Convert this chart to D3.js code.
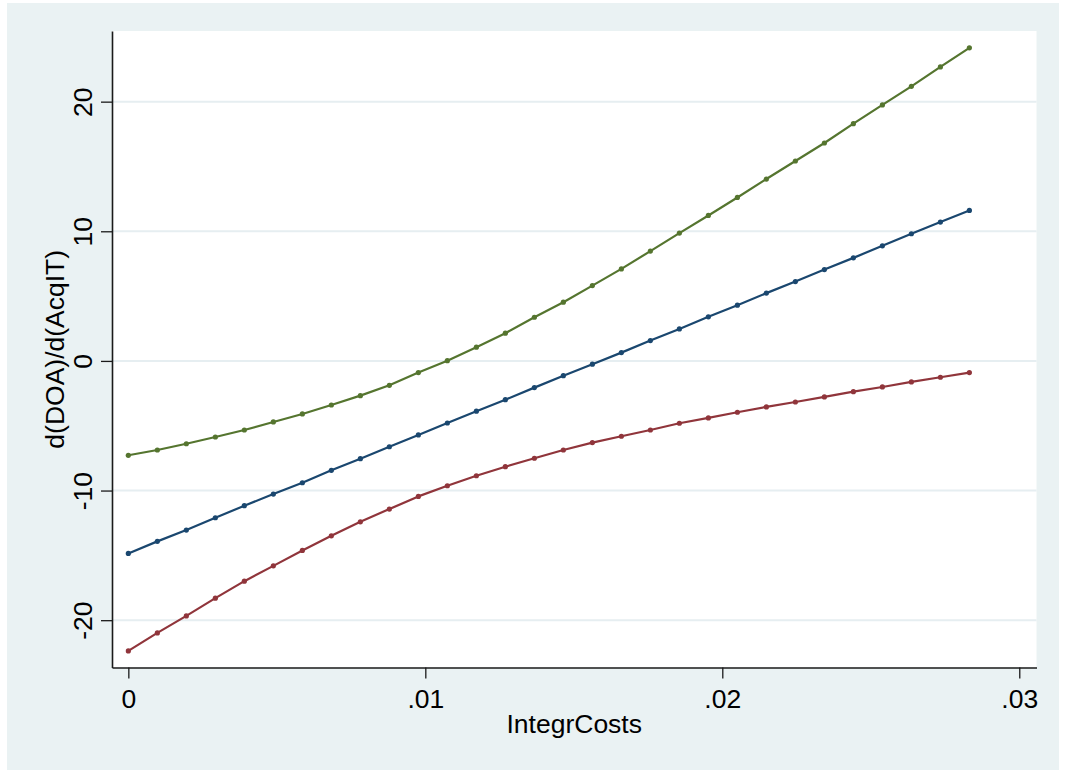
<!DOCTYPE html>
<html>
<head>
<meta charset="utf-8">
<script src="https://cdn.jsdelivr.net/npm/d3@7"></script>
<style>
  html, body { margin: 0; padding: 0; background: #ffffff; }
  svg { display: block; }
  text { font-family: "Liberation Sans", Arial, Helvetica, sans-serif; fill: #000; }
</style>
</head>
<body>
<svg id="chart" width="1065" height="775"></svg>
<script>
// IntegrCosts values at which the marginal effect is evaluated
const integrCosts = [
  0, 0.000977, 0.001953, 0.00293, 0.003906, 0.004883, 0.00586, 0.006836,
  0.007813, 0.008789, 0.009766, 0.010742, 0.011719, 0.012695, 0.013672,
  0.014648, 0.015625, 0.016602, 0.017578, 0.018555, 0.019531, 0.020508,
  0.021484, 0.022461, 0.023438, 0.024414, 0.025391, 0.026367, 0.027344, 0.02832
];

// Upper confidence bound
const upperBound = [
  -7.28, -6.87, -6.39, -5.87, -5.33, -4.71, -4.09, -3.40, -2.68, -1.88,
  -0.90, 0.02, 1.06, 2.14, 3.37, 4.53, 5.81, 7.10, 8.47, 9.86,
  11.22, 12.61, 14.03, 15.42, 16.81, 18.30, 19.75, 21.18, 22.68, 24.15
];

// Point estimate d(DOA)/d(AcqIT)
const marginalEffect = [
  -14.85, -13.92, -13.05, -12.10, -11.17, -10.27, -9.40, -8.44, -7.54, -6.62,
  -5.71, -4.79, -3.88, -2.99, -2.06, -1.14, -0.25, 0.64, 1.57, 2.47,
  3.40, 4.30, 5.23, 6.12, 7.05, 7.95, 8.88, 9.81, 10.71, 11.61
];

// Lower confidence bound
const lowerBound = [
  -22.37, -20.98, -19.67, -18.30, -16.99, -15.81, -14.62, -13.49, -12.41, -11.43,
  -10.45, -9.63, -8.86, -8.16, -7.51, -6.87, -6.30, -5.81, -5.33, -4.81,
  -4.40, -3.96, -3.55, -3.17, -2.78, -2.37, -2.01, -1.62, -1.26, -0.90
];

const xTicks = [0, 0.01, 0.02, 0.03];
const xTickLabels = ["0", ".01", ".02", ".03"];
const yTicks = [-20, -10, 0, 10, 20];
const yTickLabels = ["-20", "-10", "0", "10", "20"];

const xTitle = "IntegrCosts";
const yTitle = "d(DOA)/d(AcqIT)";

const seriesList = [
  { values: upperBound, color: "#55752f" },
  { values: marginalEffect, color: "#1a476f" },
  { values: lowerBound, color: "#90353b" }
];

// Layout
const W = 1065, H = 775;
const plot = { left: 112, right: 1036.5, top: 31, bottom: 667.5 };
const axisColor = "#1a1a1a";
const fontSize = 26.5;

const svg = d3.select("#chart");

// Graph region background
svg.append("rect")
  .attr("x", 7).attr("y", 3)
  .attr("width", 1052).attr("height", 767)
  .attr("fill", "#eaf2f3");

// Plot region
svg.append("rect")
  .attr("x", plot.left).attr("y", plot.top)
  .attr("width", plot.right - plot.left).attr("height", plot.bottom - plot.top)
  .attr("fill", "#ffffff");

const x = d3.scaleLinear()
  .domain([-0.00055, 0.03058])
  .range([plot.left, plot.right]);

const y = d3.scaleLinear()
  .domain([-23.65, 25.45])
  .range([plot.bottom, plot.top]);

// Horizontal grid lines
svg.append("g")
  .selectAll("line")
  .data(yTicks)
  .join("line")
  .attr("x1", plot.left).attr("x2", plot.right)
  .attr("y1", d => y(d)).attr("y2", d => y(d))
  .attr("stroke", "#e6eef1")
  .attr("stroke-width", 2);

// Series lines with markers
const line = d3.line()
  .x((d, i) => x(integrCosts[i]))
  .y(d => y(d));

seriesList.forEach(s => {
  svg.append("path")
    .datum(s.values)
    .attr("d", line)
    .attr("fill", "none")
    .attr("stroke", s.color)
    .attr("stroke-width", 2.2)
    .attr("stroke-linejoin", "round");

  svg.append("g")
    .selectAll("circle")
    .data(s.values)
    .join("circle")
    .attr("cx", (d, i) => x(integrCosts[i]))
    .attr("cy", d => y(d))
    .attr("r", 2.6)
    .attr("fill", s.color);
});

// X axis
const xAxis = svg.append("g")
  .attr("transform", `translate(0,${plot.bottom})`)
  .call(d3.axisBottom(x)
    .tickValues(xTicks)
    .tickFormat((d, i) => xTickLabels[i])
    .tickSize(11)
    .tickSizeOuter(0));
xAxis.select(".domain").attr("stroke", axisColor).attr("stroke-width", 1.6);
xAxis.selectAll(".tick line").attr("stroke", axisColor).attr("stroke-width", 1.3);
xAxis.selectAll(".tick text")
  .attr("y", 40.5).attr("dy", 0)
  .attr("font-size", fontSize)
  .attr("font-family", "Liberation Sans, Arial, sans-serif")
  .attr("fill", "#000");

// Y axis
const yAxis = svg.append("g")
  .attr("transform", `translate(${plot.left},0)`)
  .call(d3.axisLeft(y)
    .tickValues(yTicks)
    .tickFormat((d, i) => yTickLabels[i])
    .tickSize(11)
    .tickSizeOuter(0));
yAxis.select(".domain").attr("stroke", axisColor).attr("stroke-width", 1.6);
yAxis.selectAll(".tick line").attr("stroke", axisColor).attr("stroke-width", 1.3);
yAxis.selectAll(".tick text")
  .attr("x", null).attr("dy", null)
  .attr("transform", "translate(-20,0) rotate(-90)")
  .attr("text-anchor", "middle")
  .attr("font-size", fontSize)
  .attr("font-family", "Liberation Sans, Arial, sans-serif")
  .attr("fill", "#000");

// Axis titles
svg.append("text")
  .attr("x", (plot.left + plot.right) / 2)
  .attr("y", 733)
  .attr("text-anchor", "middle")
  .attr("font-size", fontSize)
  .text(xTitle);

svg.append("text")
  .attr("transform", `translate(64,${(plot.top + plot.bottom) / 2}) rotate(-90)`)
  .attr("text-anchor", "middle")
  .attr("font-size", fontSize)
  .text(yTitle);
</script>
</body>
</html>
